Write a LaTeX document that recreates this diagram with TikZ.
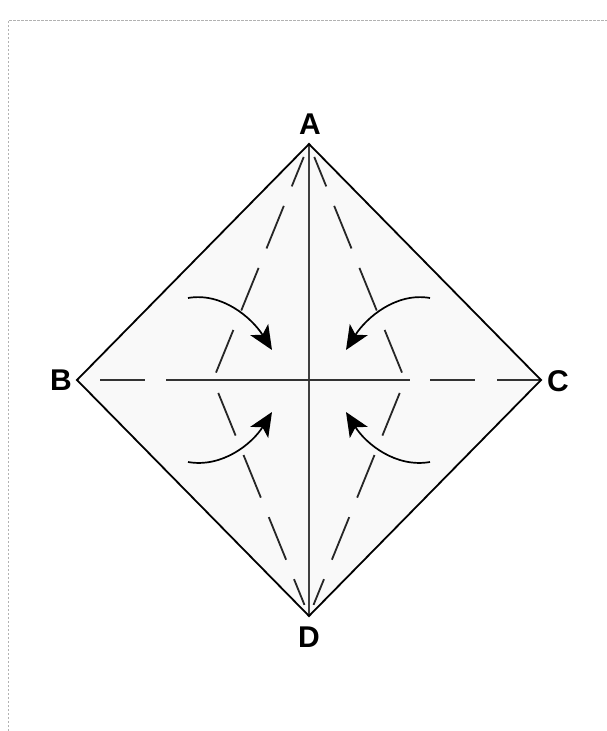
\documentclass[tikz,border=0pt]{standalone}
\usepackage{fontspec}
\setmainfont{Liberation Sans}
\usetikzlibrary{arrows.meta}

\tikzset{
  edgeline/.style={black, line width=1.8pt, line join=miter},
  crease/.style={black!85, line width=1.8pt, dash pattern=on 46pt off 21pt},
  foldarrow/.style={black, line width=1.7pt,
    -{Stealth[length=24pt, width=21pt, inset=6pt]}},
  vertexlabel/.style={font=\bfseries\fontsize{30}{32}\selectfont, inner sep=0pt}
}

\begin{document}
\begin{tikzpicture}[x=1pt, y=-1pt]
  \useasboundingbox (0,0) rectangle (607,731);

  % page frame (only top and left edges show)
  \draw[gray!60, line width=1pt, dash pattern=on 2.5pt off 1.5pt]
    (8,731) -- (8,20) -- (607,20);

  % corners of the square
  \coordinate (A) at (309,144);
  \coordinate (B) at (77,380);
  \coordinate (C) at (541,380);
  \coordinate (D) at (309,616);
  % where the kite creases meet the horizontal diagonal
  \coordinate (PL) at (213,380);
  \coordinate (PR) at (405,380);

  % paper
  \fill[gray!5] (A) -- (B) -- (D) -- (C) -- cycle;

  % vertical diagonal (existing crease)
  \draw[black!75, line width=1.4pt] (A) -- (D);

  % horizontal diagonal, dashed only near the corners
  \draw[black!80, line width=1.8pt,
    dash pattern=on 45pt off 21pt on 244pt off 20pt on 45pt off 22pt on 44pt off 23pt,
    dash phase=441pt] (B) -- (C);

  % kite creases
  \draw[crease, dash phase=59pt, shorten >=14pt] (PL) -- (A);
  \draw[crease, dash phase=59pt, shorten >=14pt] (PR) -- (A);
  \draw[crease, dash phase=53pt, shorten >=12pt] (PL) -- (D);
  \draw[crease, dash phase=53pt, shorten >=12pt] (PR) -- (D);

  % outline
  \draw[edgeline] (A) -- (B) -- (D) -- (C) -- cycle;

  % fold arrows
  \draw[foldarrow] (188,298) .. controls (222,292) and (252,318) .. (272,350);
  \draw[foldarrow] (430,298) .. controls (396,292) and (366,318) .. (346,350);
  \draw[foldarrow] (188,462) .. controls (222,468) and (252,444) .. (272,412);
  \draw[foldarrow] (430,462) .. controls (396,468) and (366,444) .. (346,412);

  % corner labels
  \node[vertexlabel] (labA) at (310,124) {A};
  \node[vertexlabel] (labB) at (61,380) {B};
  \node[vertexlabel] (labC) at (558,381) {C};
  \node[vertexlabel] (labD) at (309,637) {D};

\end{tikzpicture}
\end{document}
